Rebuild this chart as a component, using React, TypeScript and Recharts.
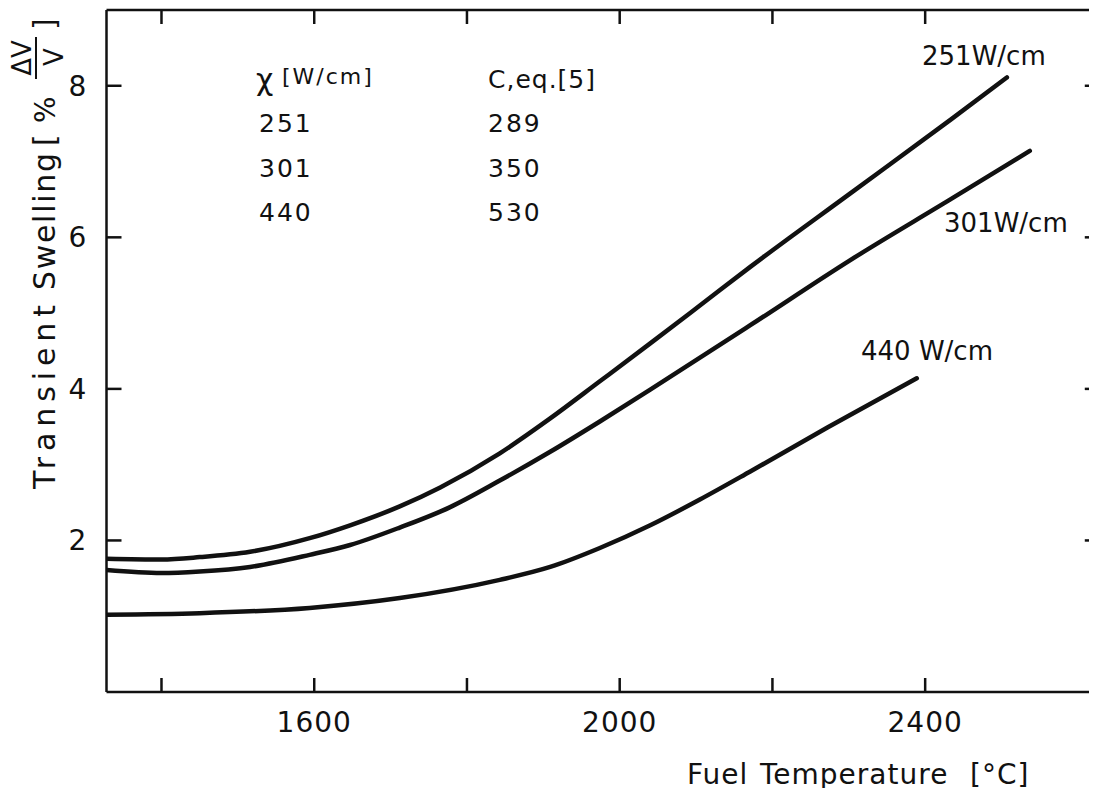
import React from "react";
import { LineChart, Line, XAxis, YAxis, ReferenceLine } from "recharts";

// values
const xTicks = [1400, 1600, 1800, 2000, 2200, 2400];
const xLabeled = [1600, 2000, 2400];
const yTicks = [2, 4, 6, 8];
const xDomain = [1328, 2625];

const temp251 = [1328, 1400, 1450, 1516, 1594, 1647, 1712, 1765, 1843, 1909, 1974, 2040, 2105, 2171, 2302, 2433, 2507];
const swell251 = [1.76, 1.75, 1.78, 1.85, 2.03, 2.2, 2.45, 2.7, 3.15, 3.61, 4.1, 4.6, 5.1, 5.61, 6.58, 7.55, 8.11];

const temp301 = [1328, 1400, 1450, 1516, 1594, 1647, 1712, 1778, 1843, 1909, 1974, 2040, 2171, 2302, 2433, 2537];
const swell301 = [1.61, 1.57, 1.59, 1.65, 1.81, 1.94, 2.17, 2.44, 2.79, 3.17, 3.57, 3.99, 4.84, 5.7, 6.5, 7.14];

const temp440 = [1328, 1450, 1594, 1712, 1843, 1909, 1974, 2040, 2105, 2171, 2272, 2389];
const swell440 = [1.02, 1.04, 1.11, 1.24, 1.48, 1.65, 1.9, 2.2, 2.54, 2.91, 3.49, 4.14];

const powers = ["251", "301", "440"];
const constants = ["289", "350", "530"];

const toRows = (t: number[], s: number[]) => t.map((v, i) => ({ t: v, s: s[i] }));

const ink = "#111";
const font = "DejaVu Sans";

const W = 1089;
const H = 780;

const BottomTick = (props: any) => {
  const { x, y, payload } = props;
  return (
    <g>
      <line x1={x} y1={y} x2={x} y2={y - 14} stroke={ink} strokeWidth={2.5} />
      {xLabeled.includes(payload.value) && (
        <text x={x} y={y + 40} textAnchor="middle" fontFamily={font} fontSize={28} fill={ink} letterSpacing={1}>
          {payload.value}
        </text>
      )}
    </g>
  );
};

const TopTick = (props: any) => {
  const { x, y } = props;
  return <line x1={x} y1={y} x2={x} y2={y + 14} stroke={ink} strokeWidth={2.5} />;
};

const LeftTick = (props: any) => {
  const { x, y, payload } = props;
  return (
    <g>
      <line x1={x} y1={y} x2={x + 15} y2={y} stroke={ink} strokeWidth={2.5} />
      <text x={x - 29} y={y + 10} textAnchor="middle" fontFamily={font} fontSize={28} fill={ink}>
        {payload.value}
      </text>
    </g>
  );
};

function Annotations() {
  // overlay coordinates are in page pixels, shifted by the 8px body margin
  const o = -8;
  return (
    <svg
      width={W}
      height={H + 10}
      style={{ position: "absolute", left: 0, top: 0, pointerEvents: "none" }}
    >
      <g transform={`translate(${o},${o})`} fontFamily={font} fill={ink}>
        {/* rotated y-axis title */}
        <g transform="translate(55,489) rotate(-90)" fontSize={30}>
          <text x={0} y={0} textLength={184} lengthAdjust="spacing">Transient</text>
          <text x={199} y={0} textLength={137} lengthAdjust="spacing">Swelling</text>
          <text x={343} y={0}>[</text>
          <text x={366} y={0} fontSize={28}>%</text>
          <text x={431} y={-24} textAnchor="middle" fontSize={26}>ΔV</text>
          <line x1={410} y1={-19} x2={452} y2={-19} stroke={ink} strokeWidth={2} />
          <text x={432} y={8} textAnchor="middle" fontSize={26}>V</text>
          <text x={459} y={0}>]</text>
        </g>

        <text x={687} y={784} fontSize={28} letterSpacing={1}>Fuel</text>
        <text x={760} y={784} fontSize={28} letterSpacing={1}>Temperature</text>
        <text x={970} y={784} fontSize={28} letterSpacing={1}>[°C]</text>

        {/* table of power and constant */}
        <text x={256} y={90} fontSize={30}>χ</text>
        <text x={282} y={84} fontSize={22} letterSpacing={2}>[W/cm]</text>
        <text x={488} y={88} fontSize={25} letterSpacing={1}>C,eq.[5]</text>
        {powers.map((p, i) => (
          <text key={p} x={259} y={132 + i * 44.5} fontSize={25} letterSpacing={2}>{p}</text>
        ))}
        {constants.map((c, i) => (
          <text key={c} x={488} y={132 + i * 44.5} fontSize={25} letterSpacing={2}>{c}</text>
        ))}

        {/* curve labels */}
        <text x={922} y={65} fontSize={26}>251W/cm</text>
        <text x={944} y={232} fontSize={26}>301W/cm</text>
        <text x={861} y={360} fontSize={26}>440 W/cm</text>
      </g>
    </svg>
  );
}

export default function App() {
  return (
    <div style={{ position: "relative", width: W, height: H, background: "#fff" }}>
      <LineChart width={W} height={H} margin={{ top: 2, right: 0, bottom: 0, left: 0 }}>
        <XAxis
          xAxisId="b"
          type="number"
          dataKey="t"
          domain={xDomain}
          allowDataOverflow
          ticks={xTicks}
          interval={0}
          height={96}
          tickSize={0}
          tickMargin={0}
          tickLine={false}
          stroke={ink}
          axisLine={{ stroke: ink, strokeWidth: 2.5 }}
          tick={<BottomTick />}
        />
        <XAxis
          xAxisId="t"
          orientation="top"
          mirror
          type="number"
          dataKey="t"
          domain={xDomain}
          allowDataOverflow
          ticks={xTicks}
          interval={0}
          height={1}
          tickSize={0}
          tickMargin={0}
          tickLine={false}
          stroke={ink}
          axisLine={{ stroke: ink, strokeWidth: 2.5 }}
          tick={<TopTick />}
        />
        <YAxis
          yAxisId="l"
          type="number"
          domain={[0, 9]}
          ticks={yTicks}
          interval={0}
          width={98.5}
          tickSize={0}
          tickMargin={0}
          tickLine={false}
          stroke={ink}
          axisLine={{ stroke: ink, strokeWidth: 2.5 }}
          tick={<LeftTick />}
        />
        {/* short inward ticks on the (cut off) right-hand frame */}
        {yTicks.map((v) => (
          <ReferenceLine
            key={v}
            xAxisId="b"
            yAxisId="l"
            segment={[{ x: xDomain[1] - 16, y: v }, { x: xDomain[1], y: v }]}
            stroke={ink}
            strokeWidth={2.5}
            ifOverflow="visible"
          />
        ))}
        <Line xAxisId="b" yAxisId="l" data={toRows(temp251, swell251)} dataKey="s" type="monotone" stroke={ink} strokeWidth={4.5} dot={false} strokeLinecap="round" isAnimationActive={false} />
        <Line xAxisId="b" yAxisId="l" data={toRows(temp301, swell301)} dataKey="s" type="monotone" stroke={ink} strokeWidth={4.5} dot={false} strokeLinecap="round" isAnimationActive={false} />
        <Line xAxisId="b" yAxisId="l" data={toRows(temp440, swell440)} dataKey="s" type="monotone" stroke={ink} strokeWidth={4.5} dot={false} strokeLinecap="round" isAnimationActive={false} />
      </LineChart>
      <Annotations />
    </div>
  );
}
